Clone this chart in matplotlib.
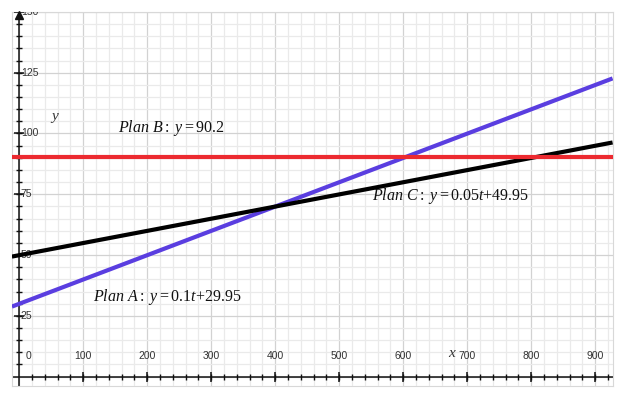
import numpy as np
import matplotlib
matplotlib.use("Agg")
import matplotlib.pyplot as plt

# Plan lines y = slope * t + intercept
plan_names = ["Plan A", "Plan B", "Plan C"]
slopes = [0.1, 0.0, 0.05]
intercepts = [29.95, 90.2, 49.95]
line_colors = ["#5a3ee0", "#ec2a30", "#000000"]
label_texts = [
    r"$\mathit{Plan\ A{:}}\ y{=}\mathrm{0.1}t{+}\mathrm{29.95}$",
    r"$\mathit{Plan\ B{:}}\ y{=}\mathrm{90.2}$",
    r"$\mathit{Plan\ C{:}}\ y{=}\mathrm{0.05}t{+}\mathrm{49.95}$",
]
label_pos = [(115, 32.8), (154, 102.3), (551, 74.3)]

x_ticks = [0, 100, 200, 300, 400, 500, 600, 700, 800, 900]
y_ticks = [25, 50, 75, 100, 125, 150]

plt.rcParams["mathtext.fontset"] = "custom"
plt.rcParams["mathtext.rm"] = "Liberation Serif"
plt.rcParams["mathtext.it"] = "Liberation Serif:italic"

fig = plt.figure(figsize=(6.27, 3.97), dpi=100)
ax = fig.add_axes([0.019, 0.028, 0.958, 0.942])
xlim = (-11.4, 927)
ylim = (-3.8, 150)
ax.set_xlim(*xlim)
ax.set_ylim(*ylim)

# grid
for gx in np.arange(-20, 940, 20):
    major = gx % 100 == 0
    ax.axvline(gx, color="#d2d2d2" if major else "#eaeaea", lw=0.9, zorder=0)
for gy in np.arange(-5, 155, 5):
    major = gy % 25 == 0
    ax.axhline(gy, color="#d2d2d2" if major else "#eaeaea", lw=0.9, zorder=0)

ax.set_xticks([])
ax.set_yticks([])
for s in ax.spines.values():
    s.set_color("#d8d8d8")
    s.set_linewidth(0.8)

# axes through origin
ax.axhline(0, color="#111111", lw=1.1, zorder=2)
ax.axvline(0, color="#111111", lw=1.1, zorder=2)
ax.plot([0], [148.8], marker="^", color="#111111", ms=6, zorder=3, clip_on=False)
minor_x = np.arange(20, 940, 20)
ax.plot(minor_x, np.zeros_like(minor_x), "|", color="#111111", ms=4, mew=1.0, zorder=3)
ax.plot(x_ticks[1:], np.zeros(len(x_ticks) - 1), "|", color="#111111", ms=7, mew=1.1, zorder=3)
minor_y = np.arange(5, 150, 5)
ax.plot(np.zeros_like(minor_y), minor_y, "_", color="#111111", ms=4, mew=1.0, zorder=3)
ax.plot(np.zeros(len(y_ticks)), y_ticks, "_", color="#111111", ms=7, mew=1.1, zorder=3)

# tick labels
for xt in x_ticks:
    ax.text(xt + (14 if xt == 0 else 0), 8.5, str(xt), ha="center", va="center",
            fontsize=7.5, color="#333333", family="Liberation Sans")
for yt in y_ticks:
    ax.text(2.5, yt, str(yt), ha="left", va="center", fontsize=7.5,
            color="#333333", family="Liberation Sans", clip_on=True)

ax.text(56, 106.8, "y", fontsize=11, style="italic", family="Liberation Serif",
        ha="center", va="center", color="#333333")
ax.text(675, 9.4, "x", fontsize=11, style="italic", family="Liberation Serif",
        ha="center", va="center", color="#333333")

# plan lines
t = np.array(xlim)
order = [0, 2, 1]
for i in order:
    ax.plot(t, slopes[i] * t + intercepts[i], color=line_colors[i], lw=3.0,
            zorder=4, solid_capstyle="butt")

for txt, (lx, ly) in zip(label_texts, label_pos):
    ax.text(lx, ly, txt, fontsize=11.5, ha="left", va="center", color="#111111", zorder=5)

fig.savefig("out.png", dpi=100)
